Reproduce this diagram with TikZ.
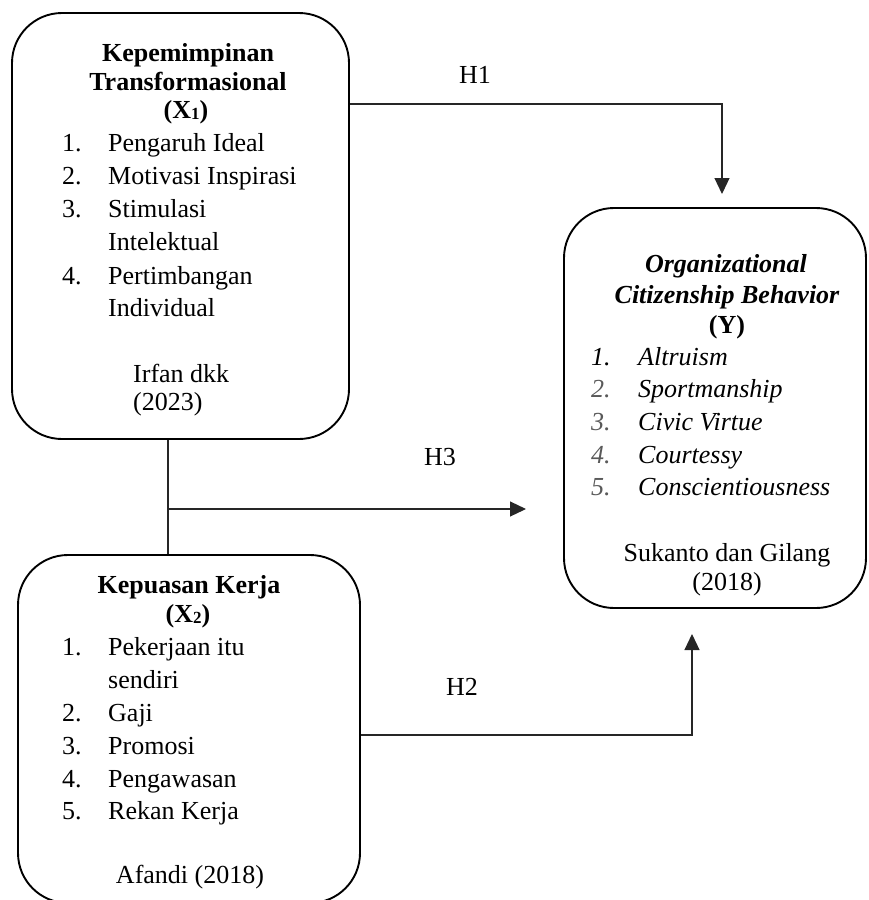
\documentclass[tikz,border=0pt]{standalone}
\usepackage{fontspec}
\setmainfont{Liberation Serif}
\usetikzlibrary{arrows.meta}
\tikzset{
  box/.style={draw=black, line width=1.9pt, rounded corners=50pt, inner sep=0pt},
  conn/.style={draw=black!85, line width=1.2pt},
  arr/.style={conn, -{Triangle[length=16pt,width=15pt]}},
  txt/.style={inner sep=0pt, font=\fontsize{26}{30}\selectfont},
  lft/.style={txt, anchor=base west},
  ctr/.style={txt, anchor=base},
  num/.style={lft},
  inum/.style={lft, font=\fontsize{26}{30}\selectfont\itshape},
}
\begin{document}
\begin{tikzpicture}[x=1pt,y=-1pt]
\useasboundingbox (0,0) rectangle (868,900);
\clip (0,0) rectangle (868,900);
% boxes
\node[box, minimum width=337pt, minimum height=426pt] (x1) at (180.5,226) {};
\node[box, minimum width=342pt, minimum height=348pt] (x2) at (189,729) {};
\node[box, minimum width=302pt, minimum height=400pt] (yb) at (715,408) {};
% box X1 text
\node[ctr, font=\fontsize{26}{30}\selectfont\bfseries] (t1a) at (188,61) {Kepemimpinan};
\node[ctr, font=\fontsize{26}{30}\selectfont\bfseries] (t1b) at (188,90) {Transformasional};
\node[ctr, font=\fontsize{26}{30}\selectfont\bfseries] (t1c) at (186,118) {(X\raisebox{-1.5pt}{\fontsize{17}{17}\selectfont 1})};
\node[num] (n11) at (62,151) {1.};
\node[lft] (i11) at (108,151) {Pengaruh Ideal};
\node[num] (n12) at (62,184) {2.};
\node[lft] (i12) at (108,184) {Motivasi Inspirasi};
\node[num] (n13) at (62,217) {3.};
\node[lft] (i13) at (108,217) {Stimulasi};
\node[lft] (i13b) at (108,250) {Intelektual};
\node[num] (n14) at (62,284) {4.};
\node[lft] (i14) at (108,284) {Pertimbangan};
\node[lft] (i14b) at (108,316) {Individual};
\node[lft] (r1a) at (133,382) {Irfan dkk};
\node[lft] (r1b) at (133,410) {(2023)};
% box X2 text
\node[ctr, font=\fontsize{26}{30}\selectfont\bfseries] (t2a) at (189,593) {Kepuasan Kerja};
\node[ctr, font=\fontsize{26}{30}\selectfont\bfseries] (t2b) at (188,622) {(X\raisebox{-1.5pt}{\fontsize{17}{17}\selectfont 2})};
\node[num] (n21) at (62,655) {1.};
\node[lft] (i21) at (108,655) {Pekerjaan itu};
\node[lft] (i21b) at (108,688) {sendiri};
\node[num] (n22) at (62,721) {2.};
\node[lft] (i22) at (108,721) {Gaji};
\node[num] (n23) at (62,754) {3.};
\node[lft] (i23) at (108,754) {Promosi};
\node[num] (n24) at (62,787) {4.};
\node[lft] (i24) at (108,787) {Pengawasan};
\node[num] (n25) at (62,819) {5.};
\node[lft] (i25) at (108,819) {Rekan Kerja};
\node[ctr] (r2) at (190,883) {Afandi (2018)};
% box Y text
\node[ctr, font=\fontsize{26}{30}\selectfont\bfseries\itshape] (t3a) at (726,272) {Organizational};
\node[ctr, font=\fontsize{26}{30}\selectfont\bfseries\itshape] (t3b) at (727,303) {Citizenship Behavior};
\node[ctr, font=\fontsize{26}{30}\selectfont\bfseries] (t3c) at (727,333) {(Y)};
\node[inum] (n31) at (591,365) {1.};
\node[inum] (i31) at (638,365) {Altruism};
\node[inum, text=black!65] (n32) at (591,397) {2.};
\node[inum] (i32) at (638,397) {Sportmanship};
\node[inum, text=black!65] (n33) at (591,430) {3.};
\node[inum] (i33) at (638,430) {Civic Virtue};
\node[inum, text=black!65] (n34) at (591,463) {4.};
\node[inum] (i34) at (638,463) {Courtessy};
\node[inum, text=black!65] (n35) at (591,495) {5.};
\node[inum] (i35) at (638,495) {Conscientiousness};
\node[ctr] (r3a) at (727,561) {Sukanto dan Gilang};
\node[ctr] (r3b) at (727,590) {(2018)};
% hypothesis labels
\node[ctr] (h1) at (475,83) {H1};
\node[ctr] (h3) at (440,465) {H3};
\node[ctr] (h2) at (462,695) {H2};
% connectors
\coordinate (h1y) at (0,104);
\coordinate (h1end) at (722,194);
\coordinate (vx) at (168,0);
\coordinate (h3y) at (0,509);
\coordinate (h3end) at (526,509);
\coordinate (h2y) at (0,735);
\coordinate (h2end) at (692,634);
\draw[arr] (x1.east |- h1y) -| (h1end);
\draw[conn] (x1.south -| vx) -- (x2.north -| vx);
\draw[arr] (vx |- h3y) -- (h3end);
\draw[arr] (x2.east |- h2y) -| (h2end);
\end{tikzpicture}
\end{document}
